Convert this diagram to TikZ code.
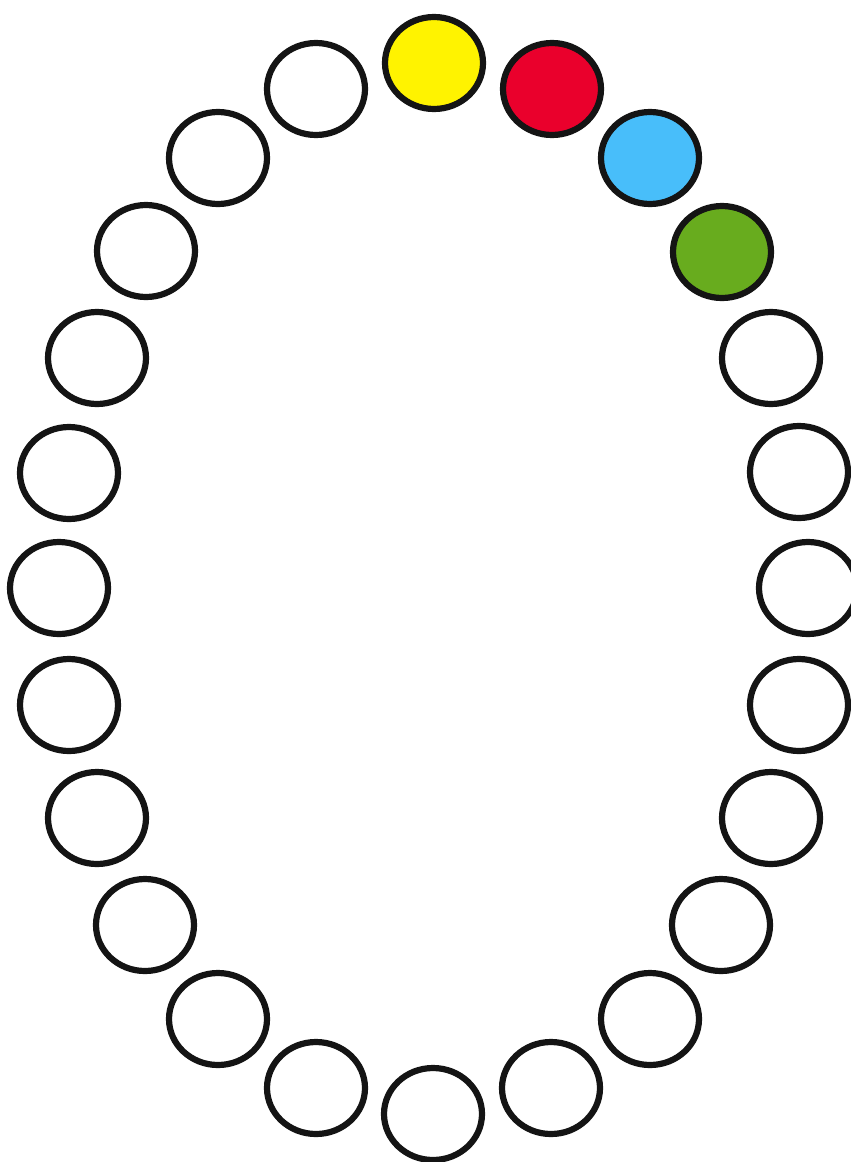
\documentclass[tikz,border=0pt]{standalone}
\usetikzlibrary{shapes.geometric}
\definecolor{bead}{RGB}{20,20,20}
\definecolor{cyellow}{RGB}{255,243,0}
\definecolor{cred}{RGB}{234,0,44}
\definecolor{cblue}{RGB}{72,190,250}
\definecolor{cgreen}{RGB}{104,172,30}
\tikzset{
  ring/.style={ellipse, draw=bead, line width=6.2pt, fill=white, inner sep=0pt,
    minimum width=98pt, minimum height=92pt}
}
\begin{document}
\begin{tikzpicture}[x=1pt,y=-1pt]
\useasboundingbox (0,0) rectangle (851,1162);
\foreach \n/\x/\y/\c in {
  1/434/63/cyellow, 2/552/89/cred, 3/650/158/cblue, 4/722/252/cgreen,
  5/771/358/white, 6/799/472/white, 7/808/588/white, 8/799/705/white,
  9/771/818/white, 10/721/925/white, 11/650/1019/white, 12/551/1088/white,
  13/433/1114/white, 14/316/1088/white, 15/218/1019/white, 16/145/925/white,
  17/97/818/white, 18/69/705/white, 19/59/588/white, 20/69/473/white,
  21/97/358/white, 22/146/251/white, 23/218/158/white, 24/316/89/white}
  \node[ring, fill=\c] (c\n) at (\x,\y) {};
\end{tikzpicture}
\end{document}
